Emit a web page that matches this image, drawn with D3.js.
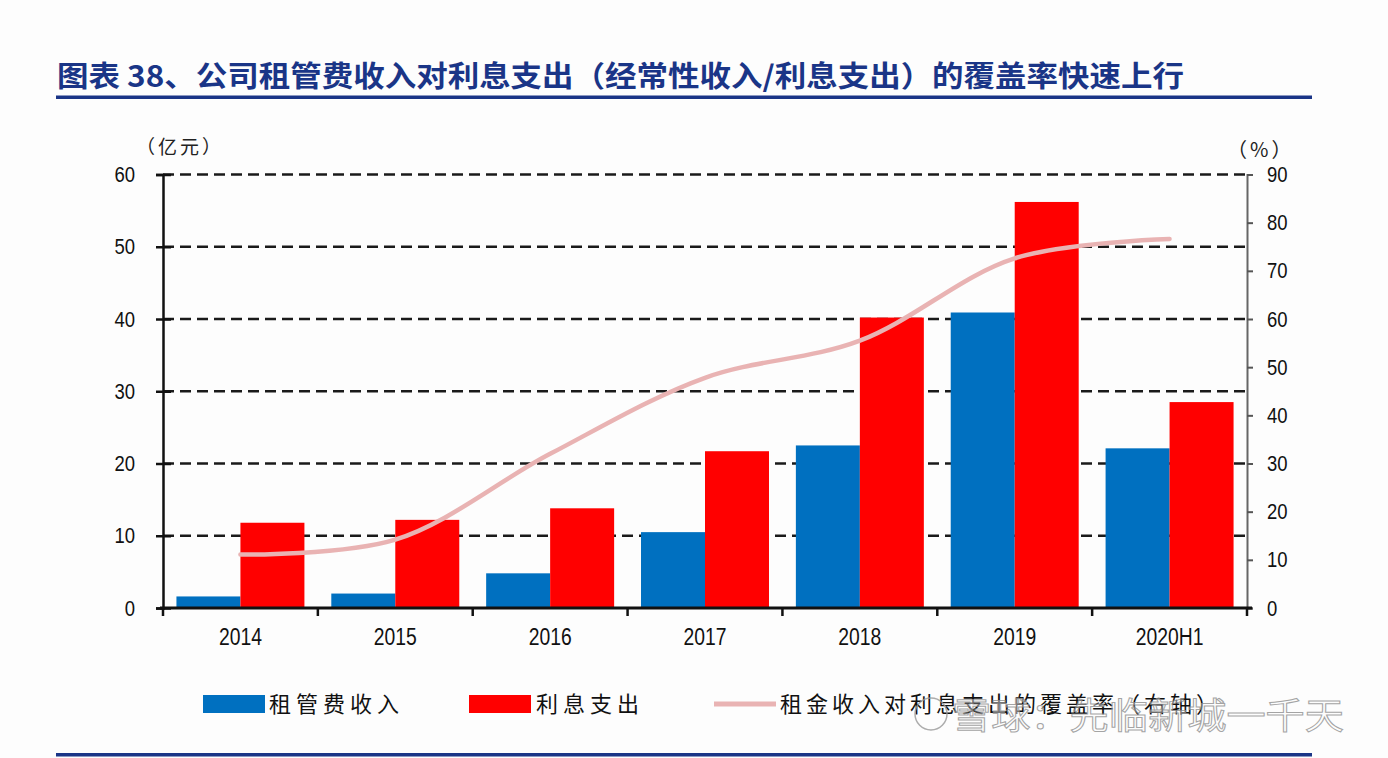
<!DOCTYPE html>
<html>
<head>
<meta charset="utf-8">
<script src="https://cdn.jsdelivr.net/npm/d3@7"></script>
<style>
  html, body { margin: 0; padding: 0; background: #fdfdfd; }
  svg { display: block; }
  .num { font-family: "Liberation Sans", Arial, sans-serif; }
  .cjk { font-family: "Noto Sans CJK SC", "Noto Sans", sans-serif; }
</style>
</head>
<body>
<svg id="chart" width="1388" height="758"></svg>
<script>
// ---- data ----
const categories = ["2014", "2015", "2016", "2017", "2018", "2019", "2020H1"];
const rentIncome = [1.6, 2.0, 4.8, 10.5, 22.5, 40.9, 22.1];      // 租管费收入 (亿元)
const interestExpense = [11.8, 12.2, 13.8, 21.7, 40.2, 56.2, 28.5]; // 利息支出 (亿元)
const coverageRatio = [11.1, 14.2, 32.0, 47.8, 55.5, 72.6, 76.6];  // 覆盖率 (%)
const leftTicks = [0, 10, 20, 30, 40, 50, 60];
const rightTicks = [0, 10, 20, 30, 40, 50, 60, 70, 80, 90];
const seriesNames = ["租管费收入", "利息支出", "租金收入对利息支出的覆盖率（右轴）"];
const titleText = "图表 38、公司租管费收入对利息支出（经常性收入/利息支出）的覆盖率快速上行";
const leftUnit = "（亿元）";
const rightUnit = "（%）";
const watermark = "雪球：先临新城一千天";

// ---- layout ----
const svg = d3.select("#chart");
const X0 = 163, X1 = 1247, Y0 = 608, Y1 = 174.5;
const navy = "#1a3587";
const blue = "#0070C0", red = "#FF0000", pink = "#E9B3B3";

const x = d3.scaleBand().domain(categories).range([X0, X1]).paddingInner(0).paddingOuter(0);
const sub = d3.scaleBand().domain(["rent", "interest"]).range([0, x.bandwidth()]).paddingInner(0).paddingOuter(0.21);
const yL = d3.scaleLinear().domain([0, 60]).range([Y0, Y1]);
const yR = d3.scaleLinear().domain([0, 90]).range([Y0, Y1]);

// condense numeric labels (reference uses a narrow sans)
function narrow(sel, k) {
  sel.each(function () {
    const w = this.getComputedTextLength();
    d3.select(this).attr("textLength", w * k).attr("lengthAdjust", "spacingAndGlyphs");
  });
}

// title
svg.append("text").attr("class", "cjk")
  .attr("x", 57).attr("y", 87)
  .attr("font-size", 29).attr("font-weight", 700).attr("fill", navy)
  .attr("textLength", 1127).attr("lengthAdjust", "spacingAndGlyphs")
  .text(titleText);
svg.append("rect").attr("x", 56).attr("y", 95.5).attr("width", 1256).attr("height", 3.5).attr("fill", navy);
svg.append("rect").attr("x", 56).attr("y", 753).attr("width", 1256).attr("height", 3.5).attr("fill", navy);

// gridlines (dashed, at left ticks)
svg.append("g").selectAll("line").data(leftTicks.filter(d => d > 0)).join("line")
  .attr("x1", X0).attr("x2", X1)
  .attr("y1", d => yL(d)).attr("y2", d => yL(d))
  .attr("stroke", "#1a1a1a").attr("stroke-width", 2.6).attr("stroke-dasharray", "11,6");

// bars
const gBars = svg.append("g");
gBars.selectAll("rect.rent").data(rentIncome).join("rect").attr("class", "rent")
  .attr("x", (d, i) => x(categories[i]) + sub("rent"))
  .attr("width", sub.bandwidth())
  .attr("y", d => yL(d)).attr("height", d => Y0 - yL(d))
  .attr("fill", blue);
gBars.selectAll("rect.interest").data(interestExpense).join("rect").attr("class", "interest")
  .attr("x", (d, i) => x(categories[i]) + sub("interest"))
  .attr("width", sub.bandwidth())
  .attr("y", d => yL(d)).attr("height", d => Y0 - yL(d))
  .attr("fill", red);

// coverage line
const line = d3.line()
  .x((d, i) => x(categories[i]) + x.bandwidth() / 2)
  .y(d => yR(d))
  .curve(d3.curveCatmullRom.alpha(0.5));
svg.append("path").datum(coverageRatio)
  .attr("d", line).attr("fill", "none")
  .attr("stroke", pink).attr("stroke-width", 4.5).attr("stroke-linecap", "round");

// left axis
const axL = d3.axisLeft(yL).tickValues(leftTicks).tickSize(7).tickPadding(21);
const gL = svg.append("g").attr("transform", `translate(${X0},0)`).call(axL);
gL.select(".domain").attr("stroke", "#111").attr("stroke-width", 2.5);
gL.selectAll(".tick line").attr("x1", 8).attr("stroke", "#111").attr("stroke-width", 2.5);
gL.selectAll(".tick text").attr("class", "num").attr("font-size", 22).attr("fill", "#111").call(narrow, 0.84);

// right axis
const axR = d3.axisRight(yR).tickValues(rightTicks).tickSize(6).tickPadding(14);
const gR = svg.append("g").attr("transform", `translate(${X1},0)`).call(axR);
gR.select(".domain").attr("stroke", "#666").attr("stroke-width", 2);
gR.selectAll(".tick line").attr("stroke", "#555").attr("stroke-width", 2);
gR.selectAll(".tick text").attr("class", "num").attr("font-size", 22).attr("fill", "#111").call(narrow, 0.84);

// bottom axis
const boundaries = categories.map(c => x(c)).concat([X1]);
const gB = svg.append("g");
gB.append("line").attr("x1", X0 - 3).attr("x2", X1 + 5).attr("y1", Y0).attr("y2", Y0)
  .attr("stroke", "#111").attr("stroke-width", 3);
gB.selectAll("line.tk").data(boundaries).join("line").attr("class", "tk")
  .attr("x1", d => d).attr("x2", d => d).attr("y1", Y0).attr("y2", Y0 + 8)
  .attr("stroke", "#111").attr("stroke-width", 2.5);
gB.selectAll("text").data(categories).join("text").attr("class", "num")
  .attr("x", d => x(d) + x.bandwidth() / 2).attr("y", 645)
  .attr("text-anchor", "middle").attr("font-size", 23).attr("fill", "#111")
  .text(d => d).call(narrow, 0.84);

// units
svg.append("text").attr("class", "cjk").attr("x", 136).attr("y", 154)
  .attr("font-size", 19).attr("fill", "#222").attr("letter-spacing", 3).text(leftUnit);
svg.append("text").attr("class", "cjk").attr("x", 1227).attr("y", 157)
  .attr("font-size", 20).attr("fill", "#222").attr("letter-spacing", 3).text(rightUnit);

// legend
const legY = 704;
const leg = svg.append("g");
leg.append("rect").attr("x", 203).attr("y", legY - 9).attr("width", 62).attr("height", 18).attr("fill", blue);
leg.append("text").attr("class", "cjk").attr("x", 269).attr("y", legY + 8).attr("font-size", 22)
  .attr("letter-spacing", 5).attr("fill", "#111").text(seriesNames[0]);
leg.append("rect").attr("x", 469).attr("y", legY - 9).attr("width", 62).attr("height", 18).attr("fill", red);
leg.append("text").attr("class", "cjk").attr("x", 536).attr("y", legY + 8).attr("font-size", 22)
  .attr("letter-spacing", 5).attr("fill", "#111").text(seriesNames[1]);
leg.append("line").attr("x1", 714).attr("x2", 776).attr("y1", legY).attr("y2", legY)
  .attr("stroke", pink).attr("stroke-width", 5);
leg.append("text").attr("class", "cjk").attr("x", 780).attr("y", legY + 8).attr("font-size", 22)
  .attr("letter-spacing", 4).attr("fill", "#111").text(seriesNames[2]);

// watermark (overlay present in the reference image)
const wm = svg.append("g").attr("opacity", 0.8);
wm.append("circle").attr("cx", 931).attr("cy", 714).attr("r", 16)
  .attr("fill", "none").attr("stroke", "#999").attr("stroke-width", 1.5);
wm.append("text").attr("class", "cjk").attr("x", 952).attr("y", 729)
  .attr("font-size", 36).attr("fill", "rgba(255,255,255,0.55)").attr("stroke", "#8f8f8f").attr("stroke-width", 1)
  .attr("textLength", 392).attr("lengthAdjust", "spacingAndGlyphs")
  .text(watermark);
</script>
</body>
</html>
